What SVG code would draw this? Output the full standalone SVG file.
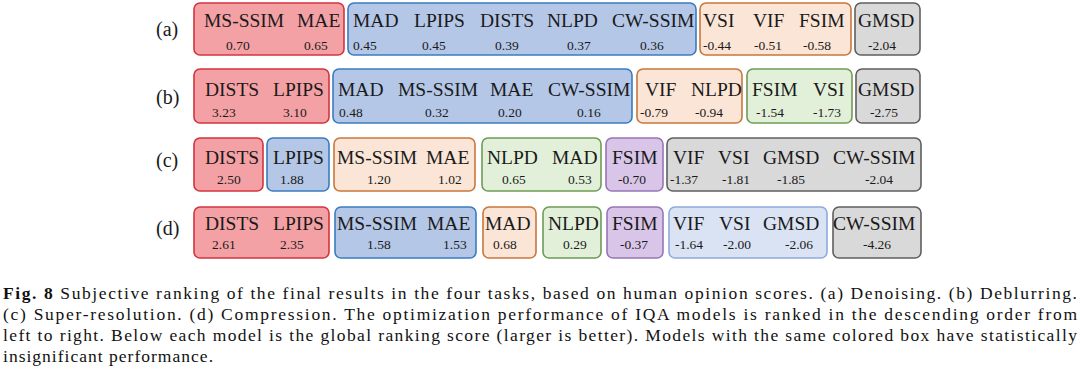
<svg xmlns="http://www.w3.org/2000/svg" width="1080" height="369" viewBox="0 0 1080 369">
<style>
.bx{stroke-width:1.6}
.red{fill:#f4a1a5;stroke:#d3343f}
.blue{fill:#b4c7e7;stroke:#3a7cc0}
.orange{fill:#fbe5d6;stroke:#c9773b}
.gray{fill:#d9d9d9;stroke:#5f5f5f}
.green{fill:#e2f0d9;stroke:#6e9c55}
.purple{fill:#d9c5e8;stroke:#9675b6}
.lblue{fill:#dae3f3;stroke:#8faadc}
.n{font-size:19.5px}
.v{font-size:13.5px}
.lab{font-size:20px}
.cap{font-size:17.5px}
</style>
<g id="labels" fill="#1a1a1a" font-family="'Liberation Serif', 'Times New Roman', serif">
<text class="lab" x="156" y="36">(a)</text>
<text class="lab" x="156" y="104">(b)</text>
<text class="lab" x="156" y="167">(c)</text>
<text class="lab" x="156" y="235">(d)</text>
</g>
<g id="boxes" fill="#1a1a1a" font-family="'Liberation Serif', 'Times New Roman', serif">
<g id="row-a">
<g id="a-red"><rect class="bx red" x="194" y="3" width="150" height="52" rx="6"/>
<text class="n" x="204" y="27">MS-SSIM</text><text class="n" x="297" y="27">MAE</text>
<text class="v" x="226" y="50">0.70</text><text class="v" x="304" y="50">0.65</text></g>
<g id="a-blue"><rect class="bx blue" x="348" y="3" width="348" height="52" rx="6"/>
<text class="n" x="353" y="27">MAD</text><text class="n" x="414" y="27">LPIPS</text><text class="n" x="480" y="27">DISTS</text><text class="n" x="547" y="27">NLPD</text><text class="n" x="612" y="27">CW-SSIM</text>
<text class="v" x="353" y="50">0.45</text><text class="v" x="422" y="50">0.45</text><text class="v" x="495" y="50">0.39</text><text class="v" x="567" y="50">0.37</text><text class="v" x="640" y="50">0.36</text></g>
<g id="a-orange"><rect class="bx orange" x="700" y="3" width="151" height="52" rx="6"/>
<text class="n" x="703" y="27">VSI</text><text class="n" x="753" y="27">VIF</text><text class="n" x="799" y="27">FSIM</text>
<text class="v" x="703" y="50">-0.44</text><text class="v" x="754" y="50">-0.51</text><text class="v" x="803" y="50">-0.58</text></g>
<g id="a-gray"><rect class="bx gray" x="855" y="3" width="65" height="52" rx="6"/>
<text class="n" x="858" y="27">GMSD</text><text class="v" x="868" y="50">-2.04</text></g>
</g>
<g id="row-b">
<g id="b-red"><rect class="bx red" x="194" y="69" width="135" height="54" rx="6"/>
<text class="n" x="205" y="96">DISTS</text><text class="n" x="273" y="96">LPIPS</text>
<text class="v" x="212" y="117">3.23</text><text class="v" x="283" y="117">3.10</text></g>
<g id="b-blue"><rect class="bx blue" x="333" y="69" width="299" height="54" rx="6"/>
<text class="n" x="338" y="96">MAD</text><text class="n" x="398" y="96">MS-SSIM</text><text class="n" x="490" y="96">MAE</text><text class="n" x="548" y="96">CW-SSIM</text>
<text class="v" x="339" y="117">0.48</text><text class="v" x="425" y="117">0.32</text><text class="v" x="498" y="117">0.20</text><text class="v" x="577" y="117">0.16</text></g>
<g id="b-orange"><rect class="bx orange" x="637" y="69" width="105" height="54" rx="6"/>
<text class="n" x="645" y="96">VIF</text><text class="n" x="691" y="96">NLPD</text>
<text class="v" x="640" y="117">-0.79</text><text class="v" x="695" y="117">-0.94</text></g>
<g id="b-green"><rect class="bx green" x="747" y="69" width="105" height="54" rx="6"/>
<text class="n" x="752" y="96">FSIM</text><text class="n" x="813" y="96">VSI</text>
<text class="v" x="756" y="117">-1.54</text><text class="v" x="813" y="117">-1.73</text></g>
<g id="b-gray"><rect class="bx gray" x="856" y="69" width="64" height="54" rx="6"/>
<text class="n" x="858" y="96">GMSD</text><text class="v" x="870" y="117">-2.75</text></g>
</g>
<g id="row-c">
<g id="c-red"><rect class="bx red" x="194" y="138" width="69" height="53" rx="6"/>
<text class="n" x="205" y="164">DISTS</text><text class="v" x="217" y="184">2.50</text></g>
<g id="c-blue"><rect class="bx blue" x="267" y="138" width="62" height="53" rx="6"/>
<text class="n" x="273" y="164">LPIPS</text><text class="v" x="280" y="184">1.88</text></g>
<g id="c-orange"><rect class="bx orange" x="334" y="138" width="141" height="53" rx="6"/>
<text class="n" x="337" y="164">MS-SSIM</text><text class="n" x="426" y="164">MAE</text>
<text class="v" x="367" y="184">1.20</text><text class="v" x="438" y="184">1.02</text></g>
<g id="c-green"><rect class="bx green" x="482" y="138" width="119" height="53" rx="6"/>
<text class="n" x="487" y="164">NLPD</text><text class="n" x="552" y="164">MAD</text>
<text class="v" x="502" y="184">0.65</text><text class="v" x="568" y="184">0.53</text></g>
<g id="c-purple"><rect class="bx purple" x="606" y="138" width="57" height="53" rx="6"/>
<text class="n" x="612" y="164">FSIM</text><text class="v" x="618" y="184">-0.70</text></g>
<g id="c-gray"><rect class="bx gray" x="667" y="138" width="254" height="53" rx="6"/>
<text class="n" x="673" y="164">VIF</text><text class="n" x="718" y="164">VSI</text><text class="n" x="763" y="164">GMSD</text><text class="n" x="833" y="164">CW-SSIM</text>
<text class="v" x="670" y="184">-1.37</text><text class="v" x="722" y="184">-1.81</text><text class="v" x="777" y="184">-1.85</text><text class="v" x="865" y="184">-2.04</text></g>
</g>
<g id="row-d">
<g id="d-red"><rect class="bx red" x="194" y="207" width="135" height="51" rx="6"/>
<text class="n" x="205" y="230">DISTS</text><text class="n" x="273" y="230">LPIPS</text>
<text class="v" x="212" y="249">2.61</text><text class="v" x="280" y="249">2.35</text></g>
<g id="d-blue"><rect class="bx blue" x="335" y="207" width="141" height="51" rx="6"/>
<text class="n" x="337" y="230">MS-SSIM</text><text class="n" x="427" y="230">MAE</text>
<text class="v" x="367" y="249">1.58</text><text class="v" x="443" y="249">1.53</text></g>
<g id="d-orange"><rect class="bx orange" x="483" y="207" width="53" height="51" rx="6"/>
<text class="n" x="485" y="230">MAD</text><text class="v" x="493" y="249">0.68</text></g>
<g id="d-green"><rect class="bx green" x="543" y="207" width="58" height="51" rx="6"/>
<text class="n" x="548" y="230">NLPD</text><text class="v" x="563" y="249">0.29</text></g>
<g id="d-purple"><rect class="bx purple" x="607" y="207" width="56" height="51" rx="6"/>
<text class="n" x="612" y="230">FSIM</text><text class="v" x="620" y="249">-0.37</text></g>
<g id="d-lblue"><rect class="bx lblue" x="669" y="207" width="158" height="51" rx="6"/>
<text class="n" x="673" y="230">VIF</text><text class="n" x="719" y="230">VSI</text><text class="n" x="763" y="230">GMSD</text>
<text class="v" x="675" y="249">-1.64</text><text class="v" x="723" y="249">-2.00</text><text class="v" x="785" y="249">-2.06</text></g>
<g id="d-gray"><rect class="bx gray" x="833" y="207" width="88" height="51" rx="6"/>
<text class="n" x="833" y="230">CW-SSIM</text><text class="v" x="863" y="249">-4.26</text></g>
</g>
</g>
<g id="connectors"></g>
<g id="caption" fill="#111" font-family="'Liberation Serif', 'Times New Roman', serif">
<text class="cap" x="3" y="299" textLength="1074" lengthAdjust="spacing"><tspan font-weight="bold">Fig. 8</tspan>  Subjective ranking of the final results in the four tasks, based on human opinion scores. (a) Denoising. (b) Deblurring.</text>
<text class="cap" x="3" y="320" textLength="1074" lengthAdjust="spacing">(c) Super-resolution. (d) Compression. The optimization performance of IQA models is ranked in the descending order from</text>
<text class="cap" x="3" y="341" textLength="1074" lengthAdjust="spacing">left to right. Below each model is the global ranking score (larger is better). Models with the same colored box have statistically</text>
<text class="cap" x="3" y="362" textLength="210" lengthAdjust="spacing">insignificant performance.</text>
</g>
</svg>
